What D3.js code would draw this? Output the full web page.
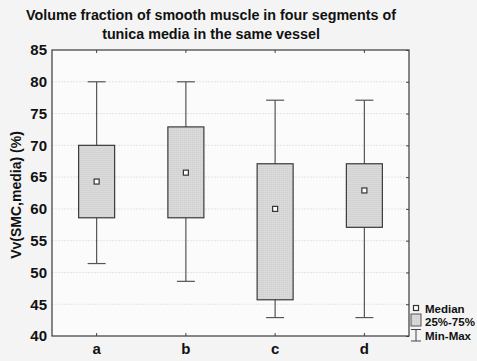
<!DOCTYPE html>
<html>
<head>
<meta charset="utf-8">
<script src="https://cdn.jsdelivr.net/npm/d3@7"></script>
<style>
  body { margin: 0; background: #f4f4f4; }
  svg { display: block; font-family: Arial, "Liberation Sans", sans-serif; }
</style>
</head>
<body>
<svg id="chart" width="477" height="361"></svg>
<script>
// segments and their box statistics (%)
const segments = ["a", "b", "c", "d"];
const minVals = [51.4, 48.6, 42.9, 42.9];
const q1Vals = [58.6, 58.6, 45.7, 57.1];
const medianVals = [64.3, 65.7, 60.0, 62.9];
const q3Vals = [70.0, 72.9, 67.1, 67.1];
const maxVals = [80.0, 80.0, 77.1, 77.1];
const yTicks = [40, 45, 50, 55, 60, 65, 70, 75, 80, 85];

const width = 477, height = 361;
const margin = { top: 50, right: 68, bottom: 25, left: 52 };

const svg = d3.select("#chart");

const data = segments.map((s, i) => ({
  seg: s, min: minVals[i], q1: q1Vals[i], med: medianVals[i], q3: q3Vals[i], max: maxVals[i]
}));

const x = d3.scaleBand()
  .domain(segments)
  .range([margin.left, width - margin.right]);

const y = d3.scaleLinear()
  .domain([40, 85])
  .range([height - margin.bottom, margin.top]);

// dotted fill like the original
const defs = svg.append("defs");
const pat = defs.append("pattern")
  .attr("id", "dots")
  .attr("width", 2).attr("height", 2)
  .attr("patternUnits", "userSpaceOnUse");
pat.append("rect").attr("width", 2).attr("height", 2).attr("fill", "#dadada");
pat.append("rect").attr("width", 1).attr("height", 1).attr("fill", "#cbcbcb");

// plot background
svg.append("rect")
  .attr("x", margin.left).attr("y", margin.top)
  .attr("width", width - margin.left - margin.right)
  .attr("height", height - margin.top - margin.bottom)
  .attr("fill", "#fbfbfb");

// grid
svg.append("g")
  .selectAll("line")
  .data(yTicks.slice(1, -1))
  .join("line")
  .attr("x1", margin.left).attr("x2", width - margin.right)
  .attr("y1", d => y(d)).attr("y2", d => y(d))
  .attr("stroke", "#e4e4e4")
  .attr("stroke-dasharray", "2,1");

// axes
const yAxis = svg.append("g")
  .attr("transform", `translate(${margin.left},0)`)
  .call(d3.axisLeft(y).tickValues(yTicks).tickSize(0).tickPadding(5))
  .call(g => g.select(".domain").remove());
yAxis.selectAll("text")
  .attr("font-size", 15).attr("font-weight", "bold").attr("fill", "#111")
  .attr("font-family", "Arial, 'Liberation Sans', sans-serif");

svg.append("g")
  .attr("transform", `translate(${width - margin.right},0)`)
  .call(d3.axisLeft(y).tickValues(yTicks).tickSize(3).tickFormat(""))
  .call(g => g.select(".domain").remove())
  .selectAll("line").attr("stroke", "#444");

const xAxis = svg.append("g")
  .attr("transform", `translate(0,${height - margin.bottom})`)
  .call(d3.axisBottom(x).tickSize(0).tickPadding(7))
  .call(g => g.select(".domain").remove());
xAxis.selectAll("text")
  .attr("font-size", 15).attr("font-weight", "bold").attr("fill", "#111")
  .attr("font-family", "Arial, 'Liberation Sans', sans-serif");

// small inner ticks on top and bottom
[[margin.top, 3], [height - margin.bottom, -3]].forEach(([yy, len]) => {
  svg.append("g")
    .selectAll("line")
    .data(segments)
    .join("line")
    .attr("x1", d => x(d) + x.bandwidth() / 2).attr("x2", d => x(d) + x.bandwidth() / 2)
    .attr("y1", yy).attr("y2", yy + len)
    .attr("stroke", "#444");
});

// frame
svg.append("rect")
  .attr("x", margin.left).attr("y", margin.top)
  .attr("width", width - margin.left - margin.right)
  .attr("height", height - margin.top - margin.bottom)
  .attr("fill", "none").attr("stroke", "#3a3a3a").attr("stroke-width", 1.2);

// boxes
const boxW = 36, capW = 18;
const boxes = svg.append("g")
  .selectAll("g")
  .data(data)
  .join("g")
  .attr("transform", d => `translate(${x(d.seg) + x.bandwidth() / 2},0)`);

boxes.append("line")
  .attr("x1", 0).attr("x2", 0)
  .attr("y1", d => y(d.max)).attr("y2", d => y(d.min))
  .attr("stroke", "#555").attr("stroke-width", 1.2);
boxes.append("line")
  .attr("x1", -capW / 2).attr("x2", capW / 2)
  .attr("y1", d => y(d.max)).attr("y2", d => y(d.max))
  .attr("stroke", "#555").attr("stroke-width", 1.2);
boxes.append("line")
  .attr("x1", -capW / 2).attr("x2", capW / 2)
  .attr("y1", d => y(d.min)).attr("y2", d => y(d.min))
  .attr("stroke", "#555").attr("stroke-width", 1.2);
boxes.append("rect")
  .attr("x", -boxW / 2).attr("width", boxW)
  .attr("y", d => y(d.q3)).attr("height", d => y(d.q1) - y(d.q3))
  .attr("fill", "url(#dots)").attr("stroke", "#3a3a3a").attr("stroke-width", 1.2);
boxes.append("rect")
  .attr("x", -2.5).attr("width", 5)
  .attr("y", d => y(d.med) - 2.5).attr("height", 5)
  .attr("fill", "#fff").attr("stroke", "#333").attr("stroke-width", 1.2);

// title
svg.append("text")
  .attr("x", 211).attr("y", 20)
  .attr("text-anchor", "middle")
  .attr("font-size", 14.3).attr("font-weight", "bold").attr("fill", "#111")
  .text("Volume fraction of smooth muscle in four segments of");
svg.append("text")
  .attr("x", 211).attr("y", 39)
  .attr("text-anchor", "middle")
  .attr("font-size", 14.3).attr("font-weight", "bold").attr("fill", "#111")
  .text("tunica media in the same vessel");

// y label
svg.append("text")
  .attr("transform", `translate(21,${(margin.top + height - margin.bottom) / 2 + 2}) rotate(-90)`)
  .attr("text-anchor", "middle")
  .attr("font-size", 14).attr("font-weight", "bold").attr("fill", "#111")
  .text("Vv(SMC,media) (%)");

// legend
const lg = svg.append("g").attr("transform", `translate(${width - margin.right + 1},0)`);
lg.append("rect").attr("x", 3.5).attr("y", 305.5).attr("width", 5).attr("height", 5)
  .attr("fill", "#fff").attr("stroke", "#333").attr("stroke-width", 1.2);
lg.append("rect").attr("x", 1).attr("y", 314).attr("width", 10).attr("height", 12)
  .attr("fill", "url(#dots)").attr("stroke", "#555");
lg.append("path").attr("d", "M1,329.5H11M6,329.5V341M1,341H11")
  .attr("stroke", "#444").attr("fill", "none");
[["Median", 312.5], ["25%-75%", 326], ["Min-Max", 340]].forEach(([t, yy]) => {
  lg.append("text").attr("x", 15).attr("y", yy)
    .attr("font-size", 11.5).attr("font-weight", "bold").attr("fill", "#111")
    .text(t);
});
</script>
</body>
</html>
